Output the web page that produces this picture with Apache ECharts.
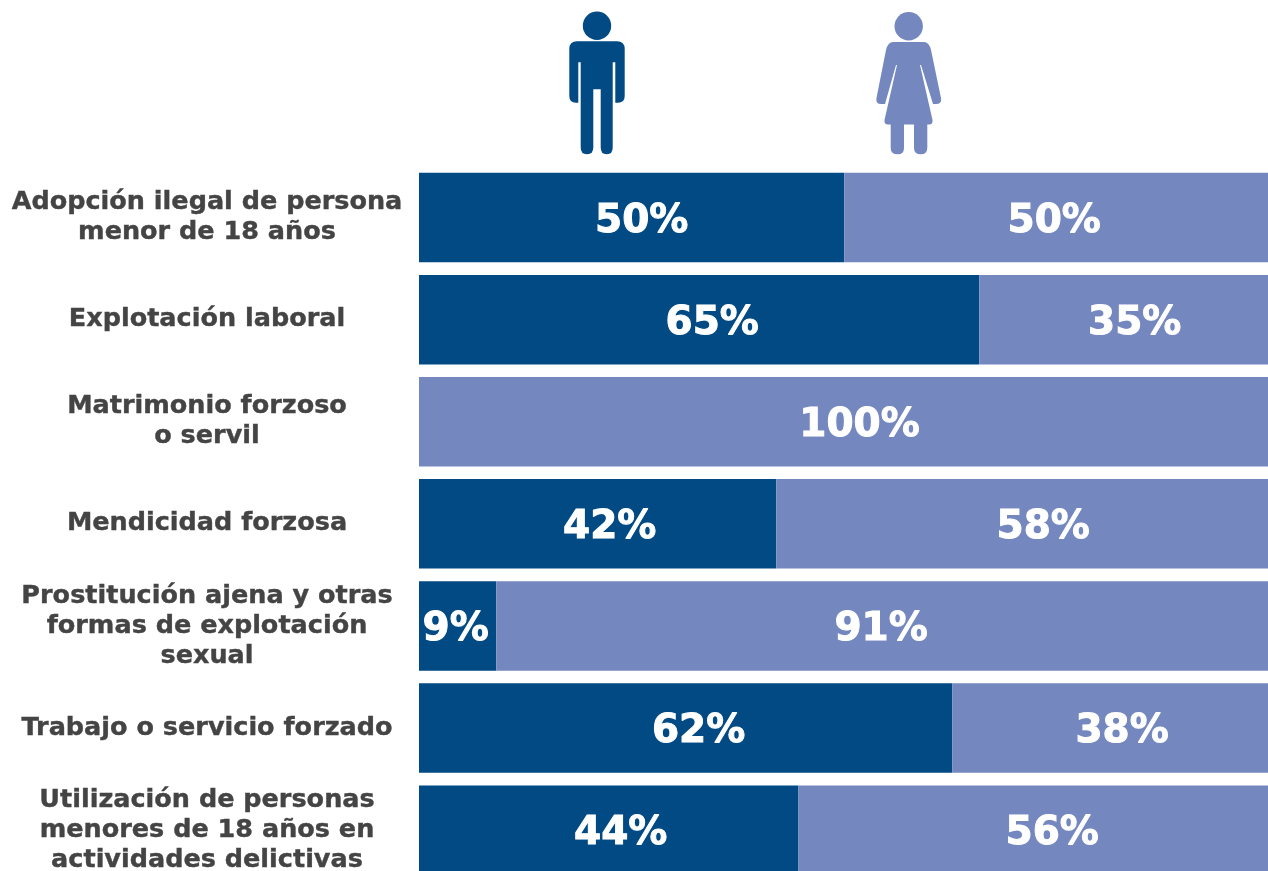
<!DOCTYPE html>
<html>
<head>
<meta charset="utf-8">
<style>
  html, body { margin: 0; padding: 0; background: #fff; overflow: hidden; }
  #chart { width: 1268px; height: 871px; }
</style>
<script src="https://cdn.jsdelivr.net/npm/echarts@6/dist/echarts.min.js"></script>
</head>
<body>
<div id="chart"></div>
<script>
// filas de arriba hacia abajo
const categories = [
  'Adopción ilegal de persona\nmenor de 18 años',
  'Explotación laboral',
  'Matrimonio forzoso\no servil',
  'Mendicidad forzosa',
  'Prostitución ajena y otras\nformas de explotación\nsexual',
  'Trabajo o servicio forzado',
  'Utilización de personas\nmenores de 18 años en\nactividades delictivas'
];
// largo de cada barra (no siempre coincide con la etiqueta)
const hombres = [50.1, 66, 0, 42.1, 9.1, 62.8, 44.7];
const mujeres = [49.9, 34, 100, 57.9, 90.9, 37.2, 55.3];
// etiquetas impresas
const hombresTxt = ['50%', '65%', '', '42%', '9%', '62%', '44%'];
const mujeresTxt = ['50%', '35%', '100%', '58%', '91%', '38%', '56%'];

const AZUL = '#014a83';
const LILA = '#7488bf';
const GRIS = '#444444';
const FUENTE = '"DejaVu Sans"';

// desplazamiento de cada etiqueta respecto al centro de su barra
const nudgeHombres = [10, 13, 0, 12, -2, 13, 12];
const nudgeMujeres = [-2, 11, 16, 21, -1, 12, 19];

function serie(name, valores, textos, nudges, color) {
  return {
    name: name,
    type: 'bar',
    stack: 'total',
    barWidth: 89.5,
    itemStyle: { color: color },
    data: valores.map((v, i) => ({
      value: v,
      label: {
        show: textos[i] !== '',
        position: 'inside',
        formatter: textos[i],
        offset: [nudges[i], 4],
        color: '#fff',
        fontFamily: FUENTE,
        fontWeight: 'bold',
        fontSize: 39,
        textBorderColor: '#fff',
        textBorderWidth: 1
      }
    }))
  };
}

// siluetas de la cabecera
const hombrePath = 'M577 41.3H617Q624.7 41.3 624.7 49V96Q624.7 102.7 618 102.7H615.3V62.3H612.7V147.5Q612.7 154.3 606.7 154.3Q600.7 154.3 600.7 147.5V89.3H593.3V147.5Q593.3 154.3 587 154.3Q580.7 154.3 580.7 147.5V62.3H578.3V102.7H576Q569.3 102.7 569.3 96V49Q569.3 41.3 577 41.3Z';
const mujerPath = 'M893 42H924Q929 42 931 50L941 98Q942 104 936 104H933L921 65H920L932.5 120Q933 124.5 929 124.5H927.3V148Q927 154.3 921 154.3Q914 154.3 914 148V124.5H904V148Q904 154.3 897.7 154.3Q890.7 154.3 890.7 148V124.5H888Q884 124.5 884.5 120L897 65H896L885 104H881Q875.5 104 876.5 98L886 50Q888 42 893 42Z';
echarts.graphic.registerShape('hombre', echarts.graphic.extendPath(hombrePath, {}));
echarts.graphic.registerShape('mujer', echarts.graphic.extendPath(mujerPath, {}));

let chart = echarts.init(document.getElementById('chart'));
chart.setOption({
  animation: false,
  backgroundColor: '#fff',
  // la última barra se corta en el borde inferior
  grid: { left: 419, top: 166.5, width: 849, height: 714.7, outerBoundsMode: 'none' },
  xAxis: { type: 'value', min: 0, max: 100, show: false },
  yAxis: {
    type: 'category',
    inverse: true,
    data: categories,
    axisLine: { show: false },
    axisTick: { show: false },
    axisLabel: {
      align: 'center',
      margin: 212,
      color: GRIS,
      fontFamily: FUENTE,
      fontWeight: 'bold',
      fontSize: 25.5,
      lineHeight: 30,
      textBorderColor: GRIS,
      textBorderWidth: 0.4
    }
  },
  series: [
    serie('Hombres', hombres, hombresTxt, nudgeHombres, AZUL),
    serie('Mujeres', mujeres, mujeresTxt, nudgeMujeres, LILA)
  ],
  graphic: [
    { type: 'circle', shape: { cx: 597, cy: 25.7, r: 14.2 }, style: { fill: AZUL } },
    { type: 'hombre', style: { fill: AZUL } },
    { type: 'circle', shape: { cx: 908.7, cy: 26.3, r: 14.2 }, style: { fill: LILA } },
    { type: 'mujer', style: { fill: LILA } }
  ]
});
</script>
</body>
</html>
